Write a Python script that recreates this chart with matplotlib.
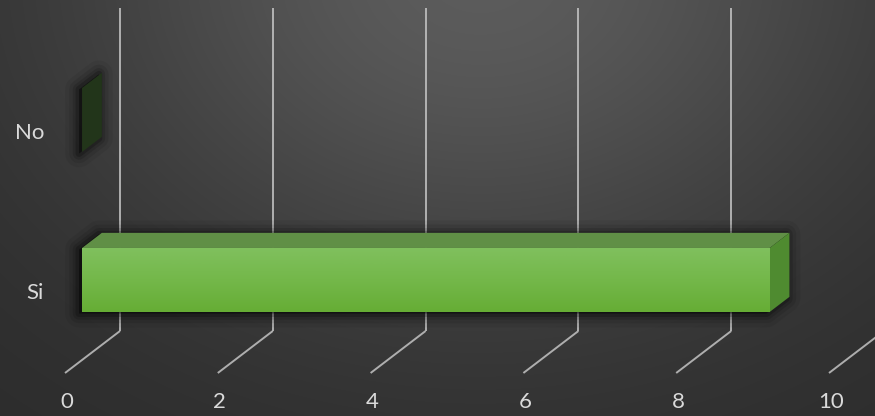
import numpy as np
import matplotlib
matplotlib.use("Agg")
import matplotlib.pyplot as plt
from matplotlib.patches import Polygon
from matplotlib.transforms import offset_copy

# ---------------- data ----------------
categories = ["Si", "No"]
values = [9, 0]
x_ticks = [0, 2, 4, 6, 8, 10]
tick_labels = ["0", "2", "4", "6", "8", "10"]

# ---------------- figure ----------------
W, H, DPI = 875, 416, 100
fig = plt.figure(figsize=(W / DPI, H / DPI), dpi=DPI)

# background radial gradient
bg_ax = fig.add_axes([0, 0, 1, 1], zorder=0)
bg_ax.set_xlim(0, 1)
bg_ax.set_ylim(0, 1)
bg_ax.axis("off")
yy, xx = np.mgrid[0:H, 0:W]
g = 0.17 + 0.19 * np.exp(-(((xx - 480) / 420.0) ** 2 + ((yy + 30) / 330.0) ** 2))
bg_ax.imshow(np.dstack([g, g, g]), extent=[0, 1, 0, 1], aspect="auto",
             origin="upper", interpolation="bilinear")

# main axes: value on x, category index on y (front floor plane)
ax = fig.add_axes([0, 0, 1, 1], zorder=1)
ax.patch.set_alpha(0)
ax.axis("off")
PXX, PXY = 76.4, 160.0        # pixels per value unit / per category
X0, Y0 = 65.0, 293.0          # pixel position of (0, category 0) on front plane
ax.set_xlim(-X0 / PXX, (W - X0) / PXX)
ax.set_ylim((Y0 - H) / PXY, Y0 / PXY)

DEPTH_X = 55.0 / PXX
DEPTH_Y = 42.0 / PXY
FLOOR = -0.5
TOP = 1.52


def P(v, c, d):
    """project (value, category, depth 0..1) onto the 2D axes."""
    return (v + d * DEPTH_X, c + d * DEPTH_Y)


grid_kw = dict(color="#c4c4c4", lw=1.4, alpha=0.85, solid_capstyle="butt", zorder=2)
for t in x_ticks:
    a, b = P(t, FLOOR, 1), P(t, TOP, 1)
    ax.plot([a[0], b[0]], [a[1], b[1]], **grid_kw)
    a, b = P(t, FLOOR, 0), P(t, FLOOR, 1)
    ax.plot([a[0], b[0]], [a[1], b[1]], **grid_kw)

# ---------------- 3D bars ----------------
HALF = 0.2
D0, D1 = 0.31, 0.67
for i, (cat, val) in enumerate(zip(categories, values)):
    c = i
    outline = [P(0, c - HALF, D0), P(val, c - HALF, D0), P(val, c - HALF, D1),
               P(val, c + HALF, D1), P(0, c + HALF, D1), P(0, c + HALF, D0)]
    # soft shadow
    for lw, al in [(20, 0.06), (14, 0.09), (9, 0.13), (5, 0.2)]:
        sh = [(x - 3.0 / PXX, y - 1.5 / PXY) for x, y in outline]
        ax.add_patch(Polygon(sh, closed=True, facecolor=(0, 0, 0, al),
                             edgecolor=(0, 0, 0, al), lw=lw, joinstyle="round",
                             zorder=3))
    front = [P(0, c - HALF, D0), P(val, c - HALF, D0),
             P(val, c + HALF, D0), P(0, c + HALF, D0)]
    top = [P(0, c + HALF, D0), P(val, c + HALF, D0),
           P(val, c + HALF, D1), P(0, c + HALF, D1)]
    side = [P(val, c - HALF, D0), P(val, c - HALF, D1),
            P(val, c + HALF, D1), P(val, c + HALF, D0)]
    side_color = "#4f8b30" if val > 0 else "#22351a"
    ax.add_patch(Polygon(top, closed=True, facecolor="#608f46", edgecolor="none", zorder=4))
    ax.add_patch(Polygon(side, closed=True, facecolor=side_color, edgecolor="none", zorder=4))
    if val > 0:
        fp = Polygon(front, closed=True, facecolor="none", edgecolor="none", zorder=4)
        ax.add_patch(fp)
        grad = np.linspace(0, 1, 64)[:, None]
        top_c = np.array([0x80, 0xc0, 0x5e]) / 255.0
        mid_c = np.array([0x74, 0xb8, 0x4a]) / 255.0
        bot_c = np.array([0x66, 0xad, 0x35]) / 255.0
        cols = np.where(grad < 0.5,
                        top_c + (mid_c - top_c) * (grad / 0.5),
                        mid_c + (bot_c - mid_c) * ((grad - 0.5) / 0.5))
        img = np.repeat(cols[:, None, :], 4, axis=1)
        xs = [p[0] for p in front]
        ys = [p[1] for p in front]
        im = ax.imshow(img, extent=[min(xs), max(xs), min(ys), max(ys)],
                       origin="upper", aspect="auto", zorder=4.5,
                       interpolation="bilinear")
        im.set_clip_path(fp)

# ---------------- text ----------------
font = ["Lato", "DejaVu Sans"]
txt_kw = dict(color="#dadada", fontsize=16, family=font, zorder=6)
for i, cat in enumerate(categories):
    ax.text(0, i, cat, ha="right", va="center",
            transform=offset_copy(ax.transData, fig=fig, x=-21, y=0, units="dots"),
            **txt_kw)
for t, lbl in zip(x_ticks, tick_labels):
    ax.text(t, FLOOR, lbl, ha="center", va="center",
            transform=offset_copy(ax.transData, fig=fig, x=2, y=-29, units="dots"),
            **txt_kw)

fig.savefig("out.png", dpi=DPI)
